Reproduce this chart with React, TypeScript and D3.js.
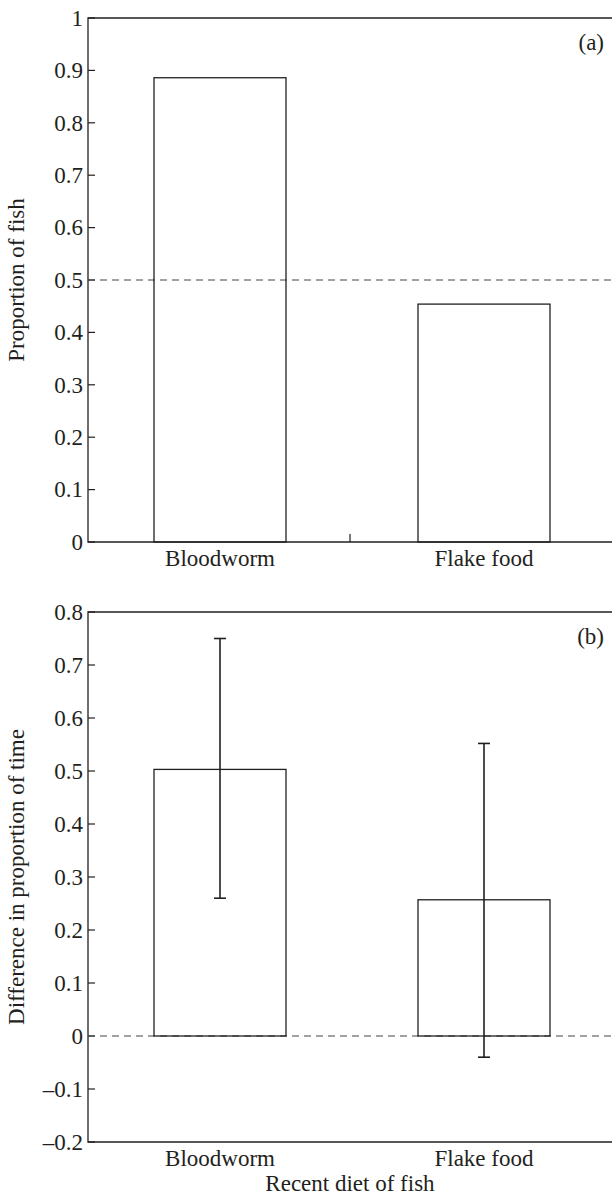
import React, { useRef, useEffect } from 'react';
import * as d3 from 'd3';

const categories = ['Bloodworm', 'Flake food'];
const proportionFish = [0.886, 0.454];
const diffMeans = [0.503, 0.257];
const diffLower = [0.26, -0.04];
const diffUpper = [0.75, 0.552];
const ticksA = [0, 0.1, 0.2, 0.3, 0.4, 0.5, 0.6, 0.7, 0.8, 0.9, 1];
const ticksB = [-0.2, -0.1, 0, 0.1, 0.2, 0.3, 0.4, 0.5, 0.6, 0.7, 0.8];

const W = 612;
const H = 1199;
const FONT = '"Liberation Serif", "Times New Roman", serif';
const FS = '23px';
const INK = '#231f20';

const fmt = (v: number) => {
  if (v === 0) return '0';
  if (v === 1) return '1';
  const s = v.toFixed(1);
  return v < 0 ? '\u2013' + s.slice(1) : s;
};

const App = () => {
  const ref = useRef<SVGSVGElement>(null);

  useEffect(() => {
    const svg = d3.select(ref.current);
    svg.selectAll('*').remove();

    const left = 88;
    const right = 616;

    const x = d3.scaleBand<string>()
      .domain(categories)
      .range([left, right])
      .paddingInner(0.5)
      .paddingOuter(0.25);

    const drawPanel = (
      top: number,
      bottom: number,
      domain: [number, number],
      ticks: number[],
      tag: string,
      yTitle: string,
      midTick: boolean
    ) => {
      const y = d3.scaleLinear().domain(domain).range([bottom, top]);
      const g = svg.append('g');

      // frame: top, left, bottom
      g.append('path')
        .attr('d', `M${right},${top}H${left}V${bottom}H${right}`)
        .attr('fill', 'none')
        .attr('stroke', INK)
        .attr('stroke-width', 1.3);

      // y ticks
      g.selectAll('line.yt')
        .data(ticks)
        .join('line')
        .attr('x1', left)
        .attr('x2', left + 7)
        .attr('y1', d => y(d))
        .attr('y2', d => y(d))
        .attr('stroke', INK)
        .attr('stroke-width', 1.2);

      g.selectAll('text.yl')
        .data(ticks)
        .join('text')
        .attr('x', left - 5)
        .attr('y', d => y(d))
        .attr('dy', '0.34em')
        .attr('text-anchor', 'end')
        .style('font-family', FONT)
        .style('font-size', FS)
        .attr('fill', INK)
        .text(d => fmt(d));

      if (midTick) {
        g.append('line')
          .attr('x1', (left + right) / 2 - 2)
          .attr('x2', (left + right) / 2 - 2)
          .attr('y1', bottom)
          .attr('y2', bottom - 8)
          .attr('stroke', INK)
          .attr('stroke-width', 1.2);
      }

      // category labels
      g.selectAll('text.xl')
        .data(categories)
        .join('text')
        .attr('x', d => (x(d) as number) + x.bandwidth() / 2)
        .attr('y', bottom + 24)
        .attr('text-anchor', 'middle')
        .style('font-family', FONT)
        .style('font-size', FS)
        .attr('fill', INK)
        .text(d => d);

      // panel tag
      g.append('text')
        .attr('x', 604)
        .attr('y', top + 32)
        .attr('text-anchor', 'end')
        .style('font-family', FONT)
        .style('font-size', FS)
        .attr('fill', INK)
        .text(tag);

      // y title
      g.append('text')
        .attr('transform', `translate(24,${(top + bottom) / 2}) rotate(-90)`)
        .attr('text-anchor', 'middle')
        .style('font-family', FONT)
        .style('font-size', FS)
        .attr('fill', INK)
        .text(yTitle);

      return { g, y };
    };

    // Panel (a)
    const a = drawPanel(18, 542, [0, 1], ticksA, '(a)', 'Proportion of fish', true);
    a.g.append('line')
      .attr('x1', left)
      .attr('x2', right)
      .attr('y1', a.y(0.5))
      .attr('y2', a.y(0.5))
      .attr('stroke', '#444')
      .attr('stroke-width', 1)
      .attr('stroke-dasharray', '7,5');
    a.g.selectAll('rect')
      .data(categories)
      .join('rect')
      .attr('x', d => x(d) as number)
      .attr('width', x.bandwidth())
      .attr('y', (d, i) => a.y(proportionFish[i]))
      .attr('height', (d, i) => a.y(0) - a.y(proportionFish[i]))
      .attr('fill', 'none')
      .attr('stroke', INK)
      .attr('stroke-width', 1.3);

    // Panel (b)
    const b = drawPanel(612, 1142, [-0.2, 0.8], ticksB, '(b)', 'Difference in proportion of time', false);
    b.g.append('line')
      .attr('x1', left)
      .attr('x2', right)
      .attr('y1', b.y(0))
      .attr('y2', b.y(0))
      .attr('stroke', '#444')
      .attr('stroke-width', 1)
      .attr('stroke-dasharray', '7,5');
    b.g.selectAll('rect')
      .data(categories)
      .join('rect')
      .attr('x', d => x(d) as number)
      .attr('width', x.bandwidth())
      .attr('y', (d, i) => b.y(diffMeans[i]))
      .attr('height', (d, i) => b.y(0) - b.y(diffMeans[i]))
      .attr('fill', 'none')
      .attr('stroke', INK)
      .attr('stroke-width', 1.3);

    const cx = (d: string) => (x(d) as number) + x.bandwidth() / 2;
    const eb = b.g.append('g').attr('stroke', INK).attr('stroke-width', 1.6);
    eb.selectAll('line.v')
      .data(categories)
      .join('line')
      .attr('x1', cx)
      .attr('x2', cx)
      .attr('y1', (d, i) => b.y(diffUpper[i]))
      .attr('y2', (d, i) => b.y(diffLower[i]));
    eb.selectAll('line.top')
      .data(categories)
      .join('line')
      .attr('x1', d => cx(d) - 6)
      .attr('x2', d => cx(d) + 6)
      .attr('y1', (d, i) => b.y(diffUpper[i]))
      .attr('y2', (d, i) => b.y(diffUpper[i]));
    eb.selectAll('line.bot')
      .data(categories)
      .join('line')
      .attr('x1', d => cx(d) - 6)
      .attr('x2', d => cx(d) + 6)
      .attr('y1', (d, i) => b.y(diffLower[i]))
      .attr('y2', (d, i) => b.y(diffLower[i]));

    svg.append('text')
      .attr('x', (left + right) / 2 - 2)
      .attr('y', 1191)
      .attr('text-anchor', 'middle')
      .style('font-family', FONT)
      .style('font-size', FS)
      .attr('fill', INK)
      .text('Recent diet of fish');
  }, []);

  return (
    <svg
      ref={ref}
      width={W}
      height={H}
      style={{ position: 'absolute', left: 0, top: 0, background: '#fff' }}
    />
  );
};

export default App;
